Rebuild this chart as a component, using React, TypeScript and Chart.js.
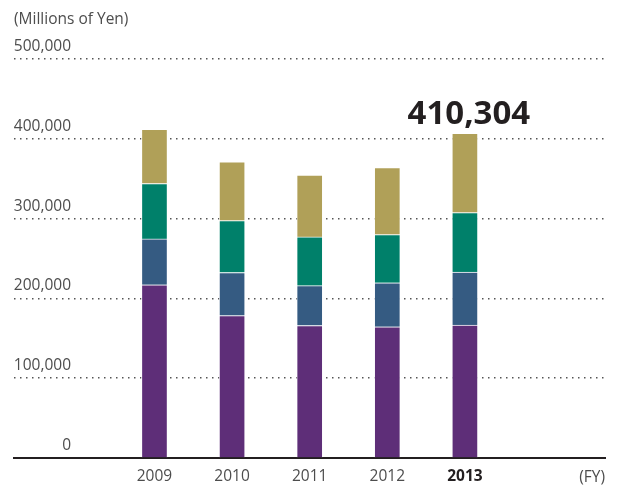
import { useEffect, useRef } from 'react';
import { Chart, registerables } from 'chart.js';

Chart.register(...registerables);

// ---- data ----
const years = [2009, 2010, 2011, 2012, 2013];
const seriesPurple = [217000, 178500, 166000, 164500, 166500];
const seriesBlue = [57500, 54000, 50000, 55000, 66500];
const seriesTeal = [69500, 65000, 61000, 60500, 74500];
const seriesOlive = [68000, 73500, 77500, 84000, 99500];
const yTicks = [0, 100000, 200000, 300000, 400000, 500000];
const highlightYear = 2013;
const totalLabel = '410,304';
const unitLabel = '(Millions of Yen)';
const fyLabel = '(FY)';

const FONT = "'Open Sans', sans-serif";
const TEXT = '#4d4d4d';
const DARK = '#231f20';

export default function App() {
  const ref = useRef<HTMLCanvasElement>(null);

  useEffect(() => {
    const canvas = ref.current;
    if (!canvas) return;

    const labelPlugin = {
      id: 'customLabels',
      afterDraw(chart: any) {
        const { ctx, chartArea, scales } = chart;
        const y = scales.y;
        ctx.save();
        ctx.fillStyle = TEXT;
        ctx.font = `15.5px ${FONT}`;
        ctx.textBaseline = 'alphabetic';
        ctx.textAlign = 'left';
        ctx.fillText(unitLabel, chartArea.left, 24);
        ctx.textAlign = 'right';
        yTicks.forEach((v) => {
          ctx.fillText(v.toLocaleString('en-US'), 71, y.getPixelForValue(v) - 8);
        });
        ctx.fillText(fyLabel, chartArea.right, 482);
        // total label above highlighted bar
        const lastMeta = chart.getDatasetMeta(chart.data.datasets.length - 1);
        const idx = years.indexOf(highlightYear);
        const el = lastMeta.data[idx];
        if (el) {
          ctx.fillStyle = DARK;
          ctx.font = `bold 33px ${FONT}`;
          ctx.textAlign = 'center';
          ctx.fillText(totalLabel, el.x + 4, el.y - 9);
        }
        ctx.restore();
      },
    };

    const mk = (label: string, values: number[], color: string) => ({
      label,
      data: years.map((yr, i) => ({ x: yr, y: values[i] })),
      backgroundColor: color,
      borderColor: 'rgba(255,255,255,0.75)',
      borderWidth: { top: 1, left: 1, right: 1, bottom: 0 },
      borderSkipped: false,
      barThickness: 26,
    });

    const chart = new Chart(canvas, {
      type: 'bar',
      data: {
        datasets: [
          mk('A', seriesPurple, '#5e2e78'),
          mk('B', seriesBlue, '#355b82'),
          mk('C', seriesTeal, '#00806a'),
          mk('D', seriesOlive, '#b0a058'),
        ],
      },
      plugins: [labelPlugin],
      options: {
        animation: false,
        responsive: false,
        maintainAspectRatio: false,
        layout: { padding: { left: 14, right: 13, top: 59, bottom: 0 } },
        plugins: { legend: { display: false }, tooltip: { enabled: false } },
        scales: {
          x: {
            type: 'linear',
            stacked: true,
            offset: false,
            min: 2007.19,
            max: 2014.805,
            afterBuildTicks: (scale: any) => {
              scale.ticks = years.map((v) => ({ value: v }));
            },
            afterFit: (scale: any) => {
              scale.height = 27;
            },
            grid: { display: false, drawTicks: false },
            border: { display: true, color: DARK, width: 2 },
            ticks: {
              autoSkip: false,
              maxRotation: 0,
              padding: 9,
              callback: (v: any) => String(v),
              color: (c: any) => (c.tick && c.tick.value === highlightYear ? DARK : TEXT),
              font: (c: any) => ({
                family: FONT,
                size: 15.5,
                weight: c.tick && c.tick.value === highlightYear ? 'bold' : 'normal',
              }),
            },
          },
          y: {
            stacked: true,
            min: 0,
            max: 500000,
            afterBuildTicks: (scale: any) => {
              scale.ticks = yTicks.map((v) => ({ value: v }));
            },
            grid: {
              drawTicks: false,
              lineWidth: 1.5,
              color: (c: any) => (c.tick && c.tick.value === 0 ? 'rgba(0,0,0,0)' : '#555'),
            },
            border: { display: false, dash: [1.5, 4.5] },
            ticks: { display: false },
          },
        },
      },
    } as any);

    return () => chart.destroy();
  }, []);

  return (
    <div style={{ position: 'fixed', left: 0, top: 0, width: 618, height: 485, background: '#fff' }}>
      <canvas ref={ref} width={618} height={485} />
    </div>
  );
}
